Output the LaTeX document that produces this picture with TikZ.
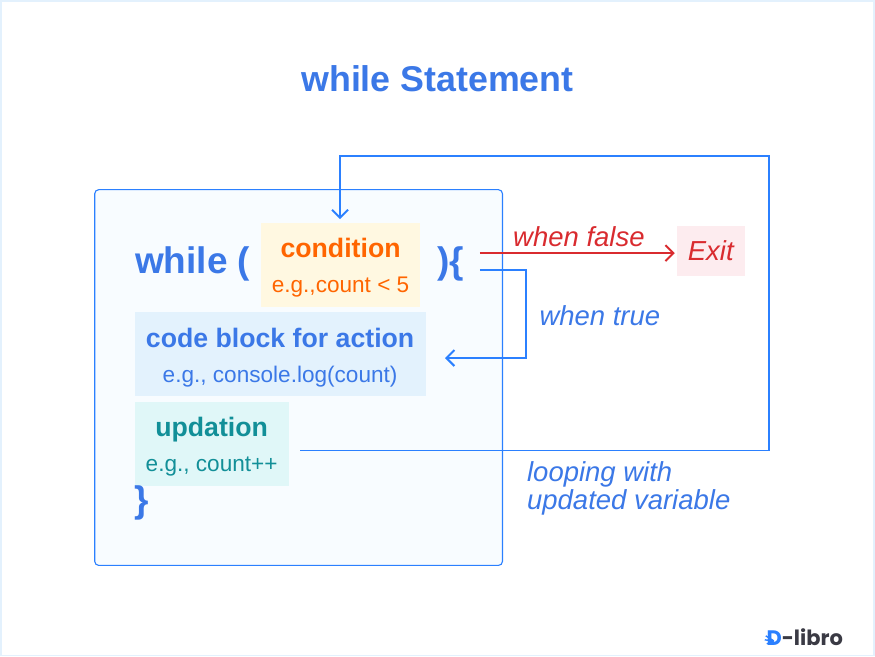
\documentclass[tikz,border=0pt]{standalone}
\usepackage{fontspec}
\setmainfont{Liberation Sans}
\newfontfamily\logofont{Poppins}
\usetikzlibrary{arrows.meta, positioning}
\definecolor{dblue}{HTML}{3B78E7}
\definecolor{dline}{HTML}{2B80FF}
\definecolor{dpale}{HTML}{F8FCFF}
\definecolor{dedge}{HTML}{E3F1FD}
\definecolor{dorange}{HTML}{FF6500}
\definecolor{dlightgold}{HTML}{FFF8E1}
\definecolor{dcode}{HTML}{E3F2FD}
\definecolor{dteal}{HTML}{128F98}
\definecolor{dlightteal}{HTML}{E0F7F8}
\definecolor{dred}{HTML}{D92B2F}
\definecolor{dlightred}{HTML}{FDECEF}
\definecolor{dlogo}{HTML}{3A3A44}
\tikzset{
  fillbox/.style={inner sep=0pt, outer sep=0pt, anchor=north west},
  bluearr/.style={-{Straight Barb[length=8pt, width=16pt]}, line width=2pt, dline},
  redarr/.style={-{Straight Barb[length=8pt, width=16pt]}, line width=2pt, dred},
  ital/.style={font=\fontsize{27.5}{28}\selectfont\itshape, align=left, inner sep=0pt},
  head/.style={font=\fontsize{26.7}{30}\selectfont\bfseries, inner sep=0pt},
  sub/.style={font=\fontsize{22.6}{24}\selectfont, inner sep=0pt},
  keyw/.style={font=\fontsize{37}{40}\selectfont\bfseries, text=dblue, inner sep=0pt},
}
\begin{document}
\begin{tikzpicture}[x=1pt, y=-1pt]
  \node[fillbox, draw=dedge, fill=white, line width=1.6pt, minimum width=874pt, minimum height=655pt] (page) at (0.5, 0.5) {};
  \node[keyw, font=\fontsize{35.8}{38}\selectfont\bfseries] (title) at (437.5, 78) {while Statement};

  \node[fillbox, draw=dline, fill=dpale, line width=1.1pt, rounded corners=4pt, minimum width=408pt, minimum height=376pt] (panel) at (94.5, 189.5) {};

  % boxes
  \node[fillbox, fill=dlightgold, minimum width=159pt, minimum height=84pt] (cond) at (261, 223) {};
  \node[head, text=dorange] (condt) at (340.5, 247.5) {condition};
  \node[sub, text=dorange] (conde) at (340.5, 287) {e.g.,count < 5};

  \node[fillbox, fill=dcode, minimum width=291pt, minimum height=84pt] (code) at (135, 312) {};
  \node[head, text=dblue] (codet) at (280, 337.5) {code block for action};
  \node[sub, text=dblue] (codee) at (280, 376.5) {e.g., console.log(count)};

  \node[fillbox, fill=dlightteal, minimum width=154pt, minimum height=84pt] (upd) at (135, 402) {};
  \node[head, text=dteal] (updt) at (211.5, 430) {updation};
  \node[sub, text=dteal] (upde) at (211.5, 466.5) {e.g., count++};

  \node[keyw] (while) at (192.5, 264) {while (};
  \node[keyw] (close) at (451, 264) {)\{};
  \node[keyw] (brace) at (141, 503) {\}};

  \node[fillbox, fill=dlightred, minimum width=68pt, minimum height=50pt] (exit) at (677, 226) {};
  \node[ital, text=dred] (exitt) at (711, 251) {Exit};

  \node[ital, text=dred] (false) at (579, 237) {when false};
  \node[ital, text=dblue] (true) at (600, 316) {when true};
  \node[ital, text=dblue, anchor=north west] (loop) at (527, 461) {looping with\\updated variable};

  \node[font=\logofont\bfseries\fontsize{21}{22}\selectfont, text=dlogo, inner sep=0pt] (logo) at (805, 637) {\textcolor{dline}{D}-libro};
  \foreach \y/\xa in {636/766, 640/765, 644/767}
    \draw[dline, line width=1.4pt] (\xa, \y) -- (774, 641);

  % connectors
  \coordinate (falsestart) at (480, 253);
  \coordinate (falsetip) at (675, 253);
  \coordinate (truestart) at (480, 270);
  \coordinate (truecorner) at (526, 270);
  \coordinate (truelow) at (526, 358);
  \coordinate (truetip) at (445, 358);
  \coordinate (loopstart) at (300, 450.5);
  \coordinate (loopright) at (769, 450.5);
  \coordinate (looptop) at (769, 156);
  \coordinate (loopleft) at (340, 156);
  \coordinate (looptip) at (340, 219);

  \draw[redarr] (falsestart) -- (falsetip);
  \draw[bluearr] (truestart) -- (truecorner) -- (truelow) -- (truetip);
  \draw[bluearr] (loopstart) -- (loopright) -- (looptop) -- (loopleft) -- (looptip);
\end{tikzpicture}
\end{document}
